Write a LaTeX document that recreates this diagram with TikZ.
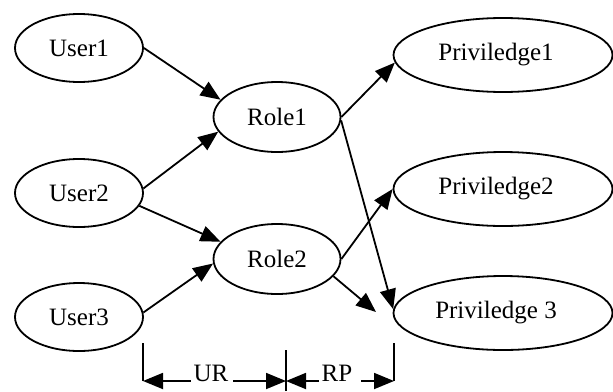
\documentclass[tikz,border=0pt]{standalone}
\usepackage{fontspec}
\setmainfont{Liberation Serif}
\usetikzlibrary{arrows.meta, shapes.geometric}

\begin{document}
\begin{tikzpicture}[x=0.5pt, y=-0.5pt, line width=0.9pt, >={Triangle[length=10pt,width=8pt]}]
	\tikzstyle{every node}=[font=\fontsize{12.5}{14}\selectfont];
	\tikzstyle{user}=[draw, ellipse, inner sep=0pt, minimum width=64pt, minimum height=34pt];
	\tikzstyle{role}=[draw, ellipse, inner sep=0pt, minimum width=63.5pt, minimum height=35pt];
	\tikzstyle{priv}=[draw, ellipse, inner sep=0pt, minimum width=109.5pt, minimum height=37pt];
	\useasboundingbox (0,0) rectangle (613,391);
	\node[user] (u1) at (79,48)  {User1};
	\node[user] (u2) at (79,193) {User2};
	\node[user] (u3) at (79,317) {User3};
	\node[role] (r1) at (277,117) {Role1};
	\node[role] (r2) at (277,259) {Role2};
	\node[priv] (p1) at (503,55)  {\hspace*{-7pt}Priviledge1};
	\node[priv] (p2) at (503,189) {\hspace*{-7pt}Priviledge2};
	\node[priv] (p3) at (503,313) {\hspace*{-7pt}Priviledge 3};
	\coordinate (loose) at (376,312);
	\draw[->] (u1.0) -- (r1.163);
	\draw[->] (u2.4) -- (r1.194);
	\draw[->] (u2.-12) -- (r2.163);
	\draw[->] (u3.4) -- (r2.184);
	\draw[->] (r1.0) -- (p1.184);
	\draw[->] (r1.-3) -- (p3.178);
	\draw[->] (r2.0) -- (p2.180);
	\draw[->] (r2.-17) -- (loose);
	% UR / RP brackets
	\coordinate (tl) at (143,381);
	\coordinate (tm) at (286,381);
	\coordinate (tr) at (394,381);
	\draw (tl) -- ++(0,-38) (tr) -- ++(0,-38) (tm) ++(0,10) -- ++(0,-41);
	\node[anchor=base, inner sep=1pt] (ur) at (211,381) {UR};
	\node[anchor=base, inner sep=1pt] (rp) at (337,381) {RP};
	\draw[->] (ur.base west) -- (tl);
	\draw[->] ([xshift=1pt]ur.base east) -- (tm);
	\draw[->] (rp.base west) -- (tm);
	\draw[->] ([xshift=3pt]rp.base east) -- (tr);
\end{tikzpicture}
\end{document}
